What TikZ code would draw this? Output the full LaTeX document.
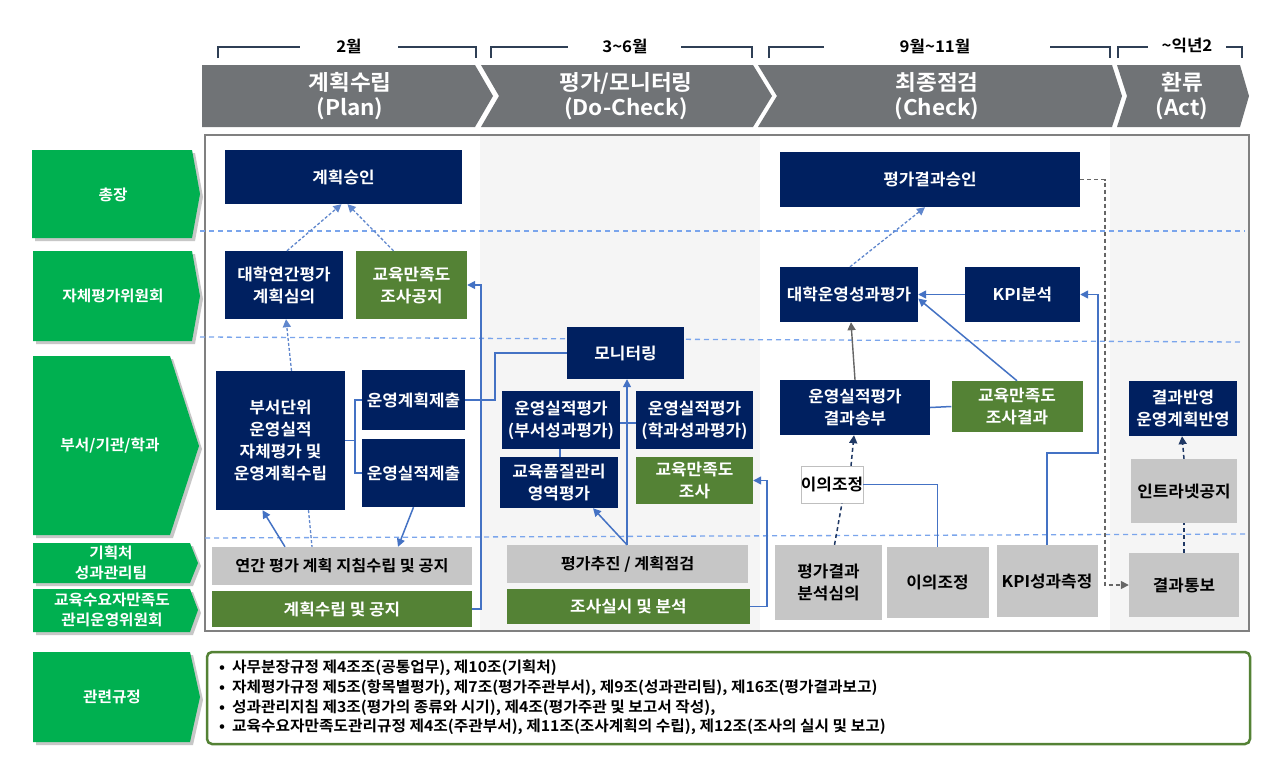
\documentclass[tikz,border=0pt]{standalone}
\usepackage{fontspec}
\setmainfont{Noto Sans CJK KR Bold}[FakeStretch=1.05]
\usetikzlibrary{arrows.meta}
\definecolor{navy}{HTML}{002060}
\definecolor{olive}{HTML}{548235}
\definecolor{lgreen}{HTML}{00B050}
\definecolor{lgray}{HTML}{C6C6C6}
\definecolor{hgray}{HTML}{707376}
\definecolor{colbg}{HTML}{F5F5F5}
\definecolor{blin}{HTML}{4472C4}
\definecolor{sepc}{HTML}{7AA5EC}
\definecolor{dnavy}{HTML}{1F3864}
\definecolor{brk}{HTML}{2F3F55}
\tikzset{
  base/.style={rectangle, inner sep=0pt, align=center, font=\fontsize{16.1}{22}\selectfont},
  nv/.style={base, fill=navy, text=white},
  gn/.style={base, fill=olive, text=white},
  gy/.style={base, fill=lgray, text=black},
  gyw/.style={gy, font=\fontsize{15.5}{21}\selectfont},
  wb/.style={base, fill=white, draw=black!25, text=black},
  lab/.style={align=center, text=white, font=\fontsize{15}{20}\selectfont},
  hdr/.style={align=center, text=white, font=\fontsize{21.5}{25}\selectfont},
  mon/.style={text=black, font=\fontsize{16}{18}\selectfont},
  reg/.style={anchor=west, inner sep=0pt, text=black, font=\fontsize{15}{18}\selectfont},
  tip/.style={-{Triangle[length=8pt,width=8pt]}},
  bl/.style={draw=blin, line width=1.5pt},
  bdash/.style={draw=blin!85, line width=1.3pt, dash pattern=on 3pt off 2pt},
  ndash/.style={draw=dnavy, line width=1.5pt, dash pattern=on 4pt off 3pt},
  gdash/.style={draw=black!60, line width=1.5pt, dash pattern=on 4pt off 3pt},
  gline/.style={draw=black!60, line width=1.4pt},
  sep/.style={draw=sepc, line width=1.3pt, dash pattern=on 5pt off 4pt},
  chev/.style={fill=lgreen},
  shd/.style={fill=black!40, opacity=0.55},
  hchev/.style={fill=hgray},
  brkl/.style={draw=brk, line width=1.3pt}
}
\begin{document}
\begin{tikzpicture}[x=1pt,y=-1pt]
\useasboundingbox (0,0) rectangle (1278,771);
\fill[white] (0,0) rectangle (1278,771);

% ---------- header brackets ----------
\draw[brkl] (218,58) -- (218,47) -- (300,47);
\draw[brkl] (398,47) -- (476,47) -- (476,58);
\node[mon] (m1) at (349,46) {2월};
\draw[brkl] (491,58) -- (491,47) -- (568,47);
\draw[brkl] (681,47) -- (752,47) -- (752,58);
\node[mon] (m2) at (625,46) {3\textasciitilde 6월};
\draw[brkl] (769,58) -- (769,47) -- (824,47);
\draw[brkl] (1050,47) -- (1110,47) -- (1110,58);
\node[mon] (m3) at (935,46) {9월\textasciitilde 11월};
\draw[brkl] (1118,58) -- (1118,47) -- (1148,47);
\draw[brkl] (1226,47) -- (1242,47) -- (1242,58);
\node[mon] (m4) at (1187,46) {\textasciitilde 익년2};

% ---------- header chevrons ----------
\fill[hchev] (202,65) -- (475,65) -- (493,96) -- (475,127) -- (202,127) -- cycle;
\fill[hchev] (481,65) -- (753,65) -- (772,96) -- (753,127) -- (481,127) -- (499,96) -- cycle;
\fill[hchev] (758,65) -- (1112,65) -- (1122,96) -- (1112,127) -- (758,127) -- (777,96) -- cycle;
\fill[hchev] (1117,65) -- (1240,65) -- (1249,96) -- (1240,127) -- (1117,127) -- (1127,96) -- cycle;
\node[hdr] (h1) at (350,96) {계획수립\\(Plan)};
\node[hdr] (h2) at (626,96) {평가/모니터링\\(Do-Check)};
\node[hdr] (h3) at (937,96) {최종점검\\(Check)};
\node[hdr] (h4) at (1182,96) {환류\\(Act)};

% ---------- main frame ----------
\fill[white] (205,135) rectangle (1249,631);
\fill[colbg] (480,136) rectangle (760,630);
\fill[colbg] (1110,136) rectangle (1248,630);
\draw[black!50, line width=1.3pt] (205,135) rectangle (1249,631);

% separators
\draw[sep] (200,231) -- (1245,231);
\draw[sep] (200,337) -- (1242,342);
\draw[sep] (205,538) -- (1245,534);

% ---------- left labels ----------
\fill[shd] (35,153) -- (195,153) -- (203,197) -- (195,241) -- (35,241) -- cycle;
\fill[chev] (32,150) -- (192,150) -- (200,194) -- (192,238) -- (32,238) -- cycle;
\node[lab] (l1) at (113,195) {총장};
\fill[shd] (36,254) -- (195,254) -- (203,299) -- (195,344) -- (36,344) -- cycle;
\fill[chev] (33,251) -- (192,251) -- (200,296) -- (192,341) -- (33,341) -- cycle;
\node[lab] (l2) at (113,296) {자체평가위원회};
\fill[shd] (36,359) -- (173,359) -- (202,449) -- (173,538) -- (36,538) -- cycle;
\fill[chev] (33,356) -- (170,356) -- (199,446) -- (170,535) -- (33,535) -- cycle;
\node[lab] (l3) at (110,446) {부서/기관/학과};
\fill[shd] (36,546) -- (193,546) -- (201,566) -- (193,586) -- (36,586) -- cycle;
\fill[chev] (33,543) -- (190,543) -- (198,563) -- (190,583) -- (33,583) -- cycle;
\node[lab] (l4) at (111,563) {기획처\\성과관리팀};
\fill[shd] (36,592) -- (193,592) -- (201,613) -- (193,635) -- (36,635) -- cycle;
\fill[chev] (33,589) -- (190,589) -- (198,610) -- (190,632) -- (33,632) -- cycle;
\node[lab] (l5) at (112,610) {교육수요자만족도\\관리운영위원회};
\fill[shd] (36,655) -- (193,655) -- (203,700) -- (193,745) -- (36,745) -- cycle;
\fill[chev] (33,652) -- (190,652) -- (200,697) -- (190,742) -- (33,742) -- cycle;
\node[lab] (l6) at (112,697) {관련규정};

% ---------- boxes: Plan ----------
\node[nv, minimum width=237pt, minimum height=54pt] (apv1) at (343.5,177) {계획승인};
\node[nv, minimum width=118pt, minimum height=68pt] (rev1) at (284,285) {대학연간평가\\계획심의};
\node[gn, minimum width=111pt, minimum height=68pt] (not1) at (411.5,285) {교육만족도\\조사공지};
\node[nv, minimum width=129pt, minimum height=139pt] (dept) at (280.5,440.5) {부서단위\\운영실적\\자체평가 및\\운영계획수립};
\node[nv, minimum width=103pt, minimum height=60pt] (plansub) at (413.5,400) {운영계획제출};
\node[nv, minimum width=103pt, minimum height=68pt] (perfsub) at (413.5,473) {운영실적제출};
\node[gyw, minimum width=260pt, minimum height=38pt] (guide) at (342,566) {연간 평가 계획 지침수립 및 공지};
\node[gn, minimum width=260pt, minimum height=36pt] (planpub) at (342,609) {계획수립 및 공지};

% ---------- boxes: Do-Check ----------
\node[nv, minimum width=117pt, minimum height=52pt] (mon) at (625.5,353) {모니터링};
\node[nv, minimum width=118pt, minimum height=58pt] (de1) at (561,420) {운영실적평가\\(부서성과평가)};
\node[nv, minimum width=117pt, minimum height=58pt] (de2) at (694.5,420) {운영실적평가\\(학과성과평가)};
\node[nv, minimum width=118pt, minimum height=51pt] (qa) at (559,482.5) {교육품질관리\\영역평가};
\node[gn, minimum width=117pt, minimum height=47pt] (sv) at (694.5,480.5) {교육만족도\\조사};
\node[gyw, minimum width=241pt, minimum height=38pt] (chk) at (627.5,564) {평가추진 / 계획점검};
\node[gn, minimum width=243pt, minimum height=35pt] (svx) at (628.5,606.5) {조사실시 및 분석};

% ---------- boxes: Check ----------
\node[nv, minimum width=300pt, minimum height=55pt] (apv2) at (930,179.5) {평가결과승인};
\node[nv, minimum width=138pt, minimum height=55pt] (uni) at (849,294.5) {대학운영성과평가};
\node[nv, minimum width=115pt, minimum height=55pt] (kpi) at (1022.5,294.5) {KPI분석};
\node[nv, minimum width=150pt, minimum height=55pt] (res) at (855,407.5) {운영실적평가\\결과송부};
\node[gn, minimum width=131pt, minimum height=51pt] (svr) at (1017,406.5) {교육만족도\\조사결과};
\node[wb, minimum width=62pt, minimum height=37pt] (obj) at (832,484.5) {이의조정};
\node[gy, minimum width=107pt, minimum height=75pt] (ana) at (828.5,582.5) {평가결과\\분석심의};
\node[gy, minimum width=102pt, minimum height=71pt] (obj2) at (937.5,582.5) {이의조정};
\node[gy, minimum width=101pt, minimum height=72pt] (kpim) at (1047,581) {KPI성과측정};

% ---------- boxes: Act ----------
\node[nv, minimum width=108pt, minimum height=55pt] (fb) at (1183,408.5) {결과반영\\운영계획반영};
\node[gy, minimum width=106pt, minimum height=64pt] (intra) at (1184,491) {인트라넷공지};
\node[gy, minimum width=110pt, minimum height=64pt] (noti) at (1184,585) {결과통보};

% ---------- connectors: Plan ----------
\draw[bdash, tip] ([xshift=3pt]rev1.north) -- ([xshift=-2pt]apv1.south);
\draw[bdash, tip] ([xshift=-18pt]not1.north) -- ([xshift=4pt]apv1.south);
\draw[bdash, tip] ([xshift=11pt]dept.north) -- ([xshift=2pt]rev1.south);
\coordinate (j1) at (355,440.5);
\draw[bl] (dept.east) -- (j1) |- (plansub.west);
\draw[bl] (j1) |- (perfsub.west);
\draw[bl, tip] (perfsub.south) -- ([xshift=56pt]guide.north);
\draw[bl, tip] ([xshift=-57pt]guide.north) -- ([xshift=-18pt]dept.south);
\draw[bdash] ([xshift=28pt]dept.south) -- ([xshift=-30pt]guide.north);
\coordinate (j2) at (495,400);
\draw[bl] (plansub.east) -- (j2) |- (mon.west);
\coordinate (j3) at (481,609);
\draw[bl, tip] (planpub.east) -- (j3) |- (not1.east);

% ---------- connectors: Do-Check ----------
\draw[bl] ([yshift=-3pt]de1.east) -- ([yshift=-3pt]de2.west);
\draw[bl] ([xshift=-1pt]de1.south) -- ([xshift=1pt]qa.north);
\draw[bl, tip] ([xshift=-0.5pt]chk.north) -- ([xshift=1.5pt]mon.south);
\draw[bl, tip] ([xshift=-0.5pt]chk.north) -- ([xshift=34pt]qa.south);
\coordinate (j4) at (767,606.5);
\draw[bl, tip] (svx.east) -- (j4) |- (sv.east);

% ---------- connectors: Check ----------
\draw[bdash, tip] ([xshift=1pt]uni.north) -- ([xshift=-5pt]apv2.south);
\draw[bl, tip] (kpi.west) -- (uni.east);
\draw[gline, tip] (res.north) -- ([xshift=2pt]uni.south);
\draw[bl, tip] (svr.north) -- ([yshift=-4pt]uni.east);
\draw[bl] (res.east) -- (svr.west);
\draw[ndash, tip] ([xshift=19pt]obj.north) -- ([xshift=-1pt]res.south);
\draw[ndash] ([xshift=6pt]ana.north) -- ([xshift=10pt]obj.south);
\draw[bl] (obj.east) -| (obj2.north);
\coordinate (j5) at (1098,453);
\draw[bl, tip] (kpim.north) |- (j5) |- (kpi.east);
\coordinate (j6) at (1105,179.5);
\draw[gdash, tip] (apv2.east) -- (j6) |- (noti.west);

% ---------- connectors: Act ----------
\draw[ndash] (noti.north) -- (intra.south);
\draw[ndash, tip] (intra.north) -- ([xshift=-1pt]fb.south);

% ---------- regulations ----------
\draw[olive, line width=2.5pt, rounded corners=5pt] (207,652) rectangle (1250,744);
\node[reg] (r1) at (219,668) {•\hspace{7pt}사무분장규정 제4조조(공통업무), 제10조(기획처)};
\node[reg] (r2) at (219,688) {•\hspace{7pt}자체평가규정 제5조(항목별평가), 제7조(평가주관부서), 제9조(성과관리팀), 제16조(평가결과보고)};
\node[reg] (r3) at (219,708) {•\hspace{7pt}성과관리지침 제3조(평가의 종류와 시기), 제4조(평가주관 및 보고서 작성),};
\node[reg] (r4) at (219,727) {•\hspace{7pt}교육수요자만족도관리규정 제4조(주관부서), 제11조(조사계획의 수립), 제12조(조사의 실시 및 보고)};
\end{tikzpicture}
\end{document}
